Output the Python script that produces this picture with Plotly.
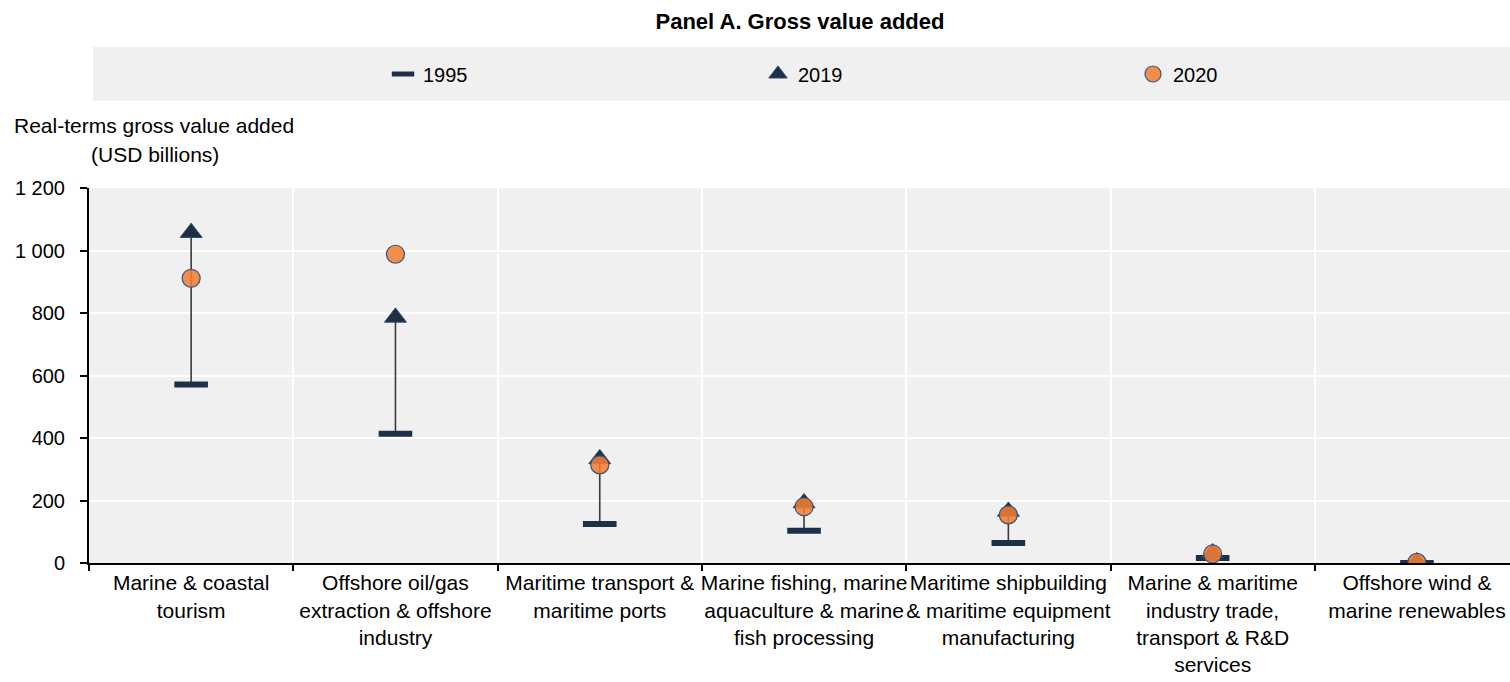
import plotly.graph_objects as go

categories = [
    "Marine & coastal<br>tourism",
    "Offshore oil/gas<br>extraction & offshore<br>industry",
    "Maritime transport &<br>maritime ports",
    "Marine fishing, marine<br>aquaculture & marine<br>fish processing",
    "Maritime shipbuilding<br>& maritime equipment<br>manufacturing",
    "Marine & maritime<br>industry trade,<br>transport & R&D<br>services",
    "Offshore wind &<br>marine renewables",
]
v1995 = [571, 414, 125, 103, 64, 16, 0]
v2019 = [1057, 786, 333, 192, 165, 32, 3]
v2020 = [911, 988, 314, 180, 154, 29, 2]

y_tickvals = [0, 200, 400, 600, 800, 1000, 1200]
y_ticktext = ["0", "200", "400", "600", "800", "1 000", "1 200"]

FONT = "Liberation Sans, Arial, sans-serif"
FS = 20
NAVY = "#1d3048"

# connecting lines from 1995 to 2019
lx, ly = [], []
for c, a, b in zip(categories, v1995, v2019):
    lx += [c, c, None]
    ly += [a, b, None]

fig = go.Figure()
fig.add_trace(go.Scatter(x=lx, y=ly, mode="lines", line=dict(color="#3a3a3a", width=1.6),
                         showlegend=False, hoverinfo="skip"))
fig.add_trace(go.Scatter(x=categories, y=v1995, mode="markers", name="1995",
                         marker=dict(symbol="line-ew", size=24,
                                     line=dict(color=NAVY, width=6))))
fig.add_trace(go.Scatter(x=categories, y=v2019, mode="markers", name="2019",
                         marker=dict(symbol="triangle-up", size=19, color="#1e2f44",
                                     line=dict(color="#2a4a70", width=1))))
fig.add_trace(go.Scatter(x=categories, y=v2020, mode="markers", name="2020",
                         marker=dict(symbol="circle", size=18, color="rgba(243,126,52,0.87)",
                                     line=dict(color="#3c5478", width=1.2))))

W, H = 1510, 682
L, T, B = 89, 188, 119
plot_h = H - T - B
plot_w = W - L

def py(px):
    return (H - B - px) / plot_h

def pxx(px):
    return (px - L) / plot_w

fig.update_layout(
    width=W, height=H,
    margin=dict(l=L, r=0, t=T, b=B, autoexpand=False),
    paper_bgcolor="white",
    plot_bgcolor="#f0f0f0",
    font=dict(family=FONT, size=FS, color="#000000"),
    title=dict(text="<b>Panel A. Gross value added</b>", x=800 / W, xref="container",
               xanchor="center", y=1 - 21 / H, yanchor="middle",
               font=dict(family=FONT, size=22, color="#000000")),
    showlegend=True,
    legend=dict(orientation="h", x=pxx(383), xanchor="left", y=py(74), yanchor="middle",
                bgcolor="rgba(0,0,0,0)", entrywidth=330, itemwidth=30,
                font=dict(family=FONT, size=FS, color="#000000")),
    shapes=[dict(type="rect", xref="paper", yref="paper", x0=pxx(93), x1=1.0,
                 y0=py(101), y1=py(47), fillcolor="#f0f0f0", line=dict(width=0), layer="below")],
    annotations=[
        dict(text="Real-terms gross value added", xref="paper", yref="paper",
             x=pxx(154), y=py(125), xanchor="center", yanchor="middle",
             showarrow=False, font=dict(family=FONT, size=21, color="#000000")),
        dict(text="(USD billions)", xref="paper", yref="paper",
             x=pxx(155), y=py(155), xanchor="center", yanchor="middle",
             showarrow=False, font=dict(family=FONT, size=21, color="#000000")),
    ],
)
fig.update_xaxes(type="category", range=[-0.5, -0.5 + plot_w / 204.3], tickson="boundaries",
                 tickangle=0, automargin=False,
                 showgrid=True, gridcolor="white", gridwidth=2,
                 showline=True, linecolor="black", linewidth=2,
                 ticks="outside", ticklen=6, tickcolor="black", tickwidth=2,
                 tickfont=dict(family=FONT, size=21, color="#000000"), zeroline=False)
fig.update_yaxes(range=[0, 1200], tickvals=y_tickvals, ticktext=y_ticktext, automargin=False,
                 showgrid=True, gridcolor="white", gridwidth=2,
                 showline=True, linecolor="black", linewidth=2,
                 ticks="outside", ticklen=7, tickcolor="black", tickwidth=2,
                 ticklabelstandoff=11,
                 tickfont=dict(family=FONT, size=FS, color="#000000"), zeroline=False)

fig.write_html("out.html", config={"displayModeBar": False},
               post_script="document.body.style.margin='0';document.body.style.overflow='hidden';")
